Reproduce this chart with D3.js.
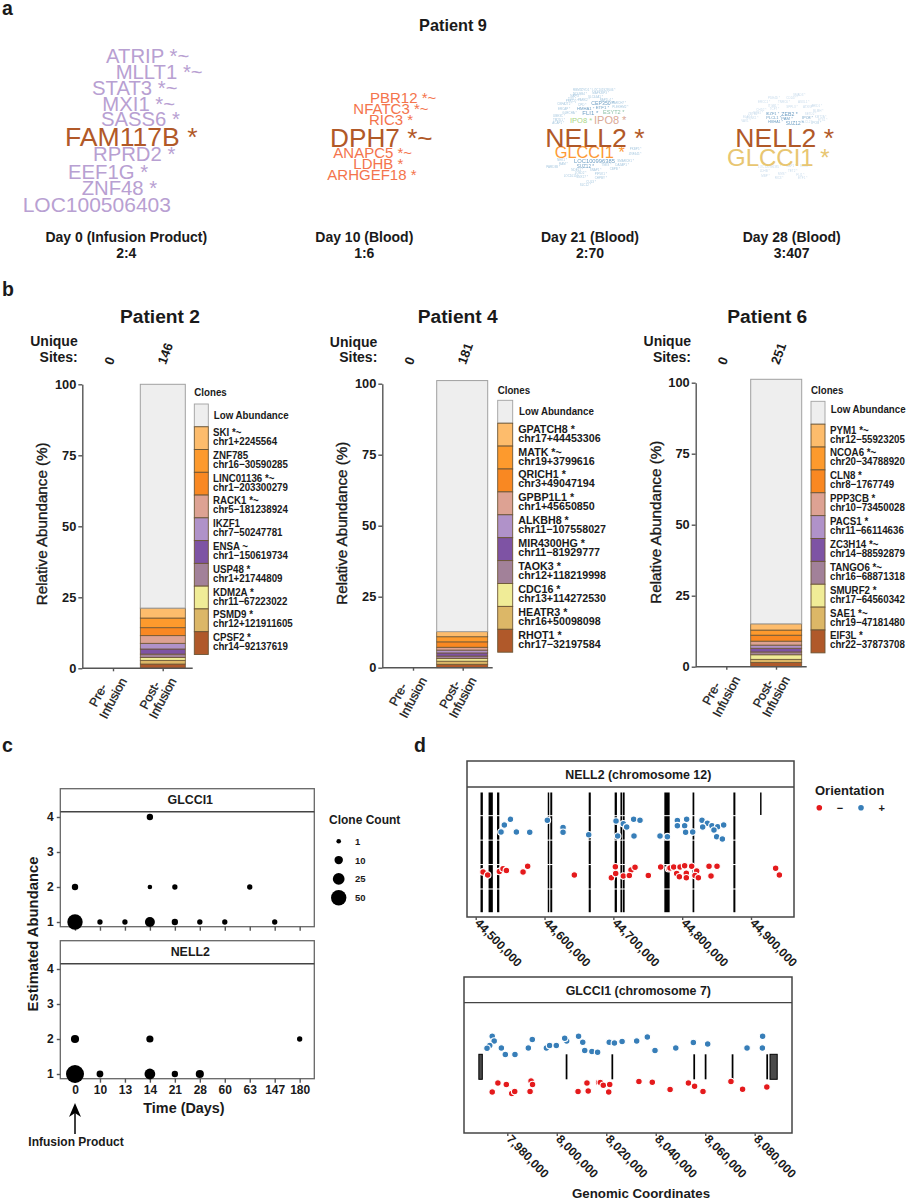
<!DOCTYPE html>
<html><head><meta charset="utf-8">
<script src="https://cdn.jsdelivr.net/npm/d3@7"></script>
<style>
html,body{margin:0;padding:0;background:#fff}
svg{display:block}
text{font-family:"Liberation Sans",Arial,sans-serif;fill:#1a1a1a}
.b{font-weight:700}
</style></head><body><div id="chart"></div>
<script>
// ---------- Panel a: word clouds ----------
const cloud0Words=["ATRIP *~","MLLT1 *~","STAT3 *~","MXI1 *~","SASS6 *","FAM117B *","RPRD2 *","EEF1G *","ZNF48 *","LOC100506403"];
const cloud0Weight=[20.3,20.3,20.3,20.3,20.3,26.6,20.3,20.3,20.3,21];
const cloud0Tone=[1,1,1,1,1,0,1,1,1,1];
const cloud0X=[318,347,276,307,303,195,279,204,245,68];
const cloud0Y=[188,236,284,332,378,438,484,537,584,635];

const cloud1Words=["PBR12 *~","NFATC3 *~","RIC3 *","DPH7 *~","ANAPC5 *~","LDHB *","ARHGEF18 *"];
const cloud1Weight=[15,15,15,26.2,15,15,15];
const cloud1Tone=[2,2,2,0,2,2,2];
const cloud1X=[1110,1060,1107,990,1000,1060,982];
const cloud1Y=[310,343,375,440,473,507,541];

const cloud2Words=["NELL2 *","GLCCI1 *","IPO8 *","IPO8 *","ESYT2 *","FLI1 *","LOC100996385","SUZ12 *","HMHA1 *","CEP350 *","ETF1 *",
 "DYD1 *","LOC101929506 *","NDUFB4 *","MAPK8IP3 *","NAPG *","SLC44A1 *","PRKCQ *","NAP1L4 *","CBFA2T2 *","CPD *","MARCH7 *","ERCAP *","PLEKHM2 *","GLRCHA *","UBE3C *","TM2D1 *","ACAP1 *","PKBP5 *","ZNF445 *","NEK1 *","RAM *","PARD3B *","NDEL1 *","SNAP1 *","TNKS *","CBPB *","SMARCE1 *","DAZAP1 *","JOSD2 *","PIP5K1 *","LOC1015 *","SNX17 *","CHPBY *","CUL3 *","SLC12 *","PARK2 *","RBM5 *","TOX *"];
const cloud2Weight=[26.7,16.4,11,7.5,5.6,6,5.8,4.6,4.2,5.2,4.4,
 3,3,3,3,3,3,3,3,3,3,3,3,3,3,3,3,3,3,3,3,3,3,3,3,3,3,3,3,3,3,3,3,3,3,3,3,3,3];
const cloud2Tone=[0,3,4,5,6,7,7,7,7,7,7,
 8,8,8,8,8,8,8,8,8,8,8,8,8,8,8,8,8,8,8,8,8,8,8,8,8,8,8,8,8,8,8,8,8,8,8,8,8,8];
const cloud2X=[277,305,423,351,450,388,363,371,372,415,428,
 385,418,360,418,352,405,338,440,313,375,475,315,478,328,300,300,298,530,527,312,318,280,355,410,445,470,493,487,365,425,332,370,425,400,380,375,360,345];
const cloud2Y=[260,295,193,190,163,165,310,324,151,134,147,
 92,92,106,102,112,114,126,122,135,137,132,149,143,162,170,182,192,270,285,303,315,325,332,332,318,330,306,319,342,345,352,355,358,368,378,122,92,120];

const cloud3Words=["NELL2 *","GLCCI1 *","ZEB2 *","PAM *","SUZ12 *","IKZF1 *","PLCL1 *","IPO8 *","HMHA1 *","IPO8 *",
 "SMAD3 *","PDE4D *","CD247 *","ERCC1 *","TNRC6 *","ASXL1 *","ITGB1 *","SPPL3 *","ATXN7 *","CHD2 *","BLMH *","ZBTB2 *","SETD2 *","RUNX1 *","KMT2A *","VAV1 *","PLCL2 *","SOS1 *","TCF7 *","ETS1 *","LOC100996385 *","NAP1 *","SOX4 *","LDHB *","TET2 *","MBP *","RIC3 *","FLI1 *","ETF1 *","ELF1 *","ARID1 *","MYB *"];
const cloud3Weight=[26.5,24,5.2,4.2,4.8,4,4,3.6,3.6,3.4,
 3,3,3,3,3,3,3,3,3,3,3,3,3,3,3,3,3,3,3,3,3,3,3,3,3,3,3,3,3,3,3,3];
const cloud3Tone=[0,9,7,7,7,7,7,7,7,8,
 10,10,10,10,10,10,10,10,10,10,10,10,10,10,10,10,10,10,10,10,10,10,10,10,10,10,10,10,10,10,10,10];
const cloud3X=[847,822,985,985,998,938,940,1048,945,1075,
 1020,945,1000,915,975,1035,945,1000,1050,910,1080,885,1055,880,1085,865,1045,900,950,1095,915,1000,1040,920,1005,925,965,1030,1035,870,1075,975];
const cloud3Y=[260,317,168,180,195,165,176,178,189,192,
 107,118,118,128,130,130,141,143,143,152,155,165,165,178,175,187,190,162,150,183,325,322,322,335,335,350,357,348,358,175,140,345];

const cloudPalette=["#b15928","#b8a0d2","#f4744c","#fd9a35","#daa996","#a9d585","#8fc2a8","#6f9fc4","#a9c9e0","#e8c671","#c9dcec"];
const cloudTitles=["Day 0 (Infusion Product)","Day 10 (Blood)","Day 21 (Blood)","Day 28 (Blood)"];
const cloudRatios=["2:4","1:6","2:70","3:407"];

// ---------- Panel b: clonal abundance ----------
const stackPalette=["#eeeeee","#fdbc6c","#fd9a2d","#f98822","#dda293","#b092c9","#7e53a4","#a28199","#f0ec97","#dcb767","#b0592a"];
const barCategories=["Pre-Infusion","Post-Infusion"];
const yTicksB=[0,25,50,75,100];

const p2Genes=["Low Abundance","SKI *~","ZNF785","LINC01136 *~","RACK1 *~","IKZF1","ENSA ~","USP48 *","KDM2A *","PSMD9 *","CPSF2 *"];
const p2Sites=["","chr1+2245564","chr16\u221230590285","chr1\u2212203300279","chr5\u2212181238924","chr7\u221250247781","chr1\u2212150619734","chr1+21744809","chr11\u221267223022","chr12+121911605","chr14\u221292137619"];
const p2Values=[78.8,3.5,3.4,2.8,2.7,2.0,1.8,1.2,1.0,1.3,1.5];
const p2Unique=[0,146];

const p4Genes=["Low Abundance","GPATCH8 *","MATK *~","QRICH1 *","GPBP1L1 *","ALKBH8 *","MIR4300HG *","TAOK3 *","CDC16 *","HEATR3 *","RHOT1 *"];
const p4Sites=["","chr17+44453306","chr19+3799616","chr3+49047194","chr1+45650850","chr11\u2212107558027","chr11\u221281929777","chr12+118219998","chr13+114272530","chr16+50098098","chr17\u221232197584"];
const p4Values=[88.4,1.8,1.8,1.9,1.0,1.0,1.1,0.9,0.9,1.1,1.2];
const p4Unique=[0,181];

const p6Genes=["Low Abundance","PYM1 *~","NCOA6 *~","CLN8 *","PPP3CB *","PACS1 *","ZC3H14 *~","TANGO6 *~","SMURF2 *","SAE1 *~","EIF3L *"];
const p6Sites=["","chr12\u221255923205","chr20\u221234788920","chr8\u22121767749","chr10\u221273450028","chr11\u221266114636","chr14\u221288592879","chr16\u221268871318","chr17\u221264560342","chr19\u221247181480","chr22\u221237873708"];
const p6Values=[86.1,2.2,1.8,2.1,1.4,1.1,1.3,1.0,1.6,1.1,1.5];
const p6Unique=[0,251];

// ---------- Panel c: clone counts ----------
const daysC=["0","10","13","14","21","28","60","63","147","180"];
const glcciDay=["0","0","10","13","14","14","14","21","21","28","60","63","147"];
const glcciAbund=[1,2,1,1,1,2,4,1,2,1,1,2,1];
const glcciCount=[50,4,2,2,16,1,4,4,2,2,2,2,2];
const nellDay=["0","0","10","14","14","21","28","180"];
const nellAbund=[1,2,1,1,2,1,1,2];
const nellCount=[73,9,5,20,6,4,9,2];
const legendCounts=[1,10,25,50];

// ---------- Panel d: integration sites (kb) ----------
const nellPlusPos=[44536.8,44541.6,44550.4,44559.1,44578.5,44604.1,44626.9,44626.9,44664.2,44703.9,44706.3,44714.5,44719.4,44729.5,44738.7,44730,44767.8,44778.5,44793,44793,44803.6,44806.5,44805,44815.3,44828.8,44836.6,44829.8,44843.3,44851.6,44846.2,44860.3,44850.1,44858.4];
const nellPlusJit=[3.33,3.62,3.85,3.33,3.32,3.81,3.52,3.32,3.22,3.78,3.17,3.67,3.54,3.85,3.81,3.17,3.17,3.14,3.80,3.59,3.59,3.85,3.32,3.33,3.81,3.69,3.54,3.59,3.55,3.41,3.62,3.14,3.05];
const nellMinusPos=[44510.7,44517.4,44534.4,44539.7,44544.6,44568.8,44575.5,44643.3,44697.1,44703.4,44702.9,44714.5,44725.7,44731.5,44723.2,44750.8,44768.8,44780.4,44782.3,44787.7,44796.9,44803.6,44813.8,44792,44795.9,44806,44806,44821.1,44818.6,44823.5,44839,44850.6,44841.9,44935.8,44941.2];
const nellMinusJit=[1.70,1.57,1.72,1.83,1.76,1.70,1.93,1.57,1.46,1.63,1.91,1.53,1.78,1.89,1.55,1.55,1.90,1.83,1.86,1.90,1.90,1.95,1.93,1.63,1.50,1.64,1.46,1.74,1.55,1.46,1.93,1.93,1.53,1.85,1.57];
const nellExonStart=[44507,44518.7,44531,44604.7,44608.4,44664.2,44701.9,44710.3,44713.9,44774.1,44815.1,44874.4,44913.2];
const nellExonEnd=[44510.4,44524.9,44534.3,44606.8,44611.2,44667.2,44705.2,44712.9,44716.4,44781.8,44817.6,44877.3,44915.3];
const nellExonLow=[0.05,0.05,0.05,0.05,0.05,0.05,0.05,0.05,0.05,0.05,0.05,0.05,4.03];
const nellExonHigh=[4.95,4.95,4.95,4.95,4.95,4.95,4.95,4.95,4.95,4.95,4.95,4.95,4.95];
const nellTicks=[44500,44600,44700,44800,44900];

const glcPlusPos=[7973.9,7974.7,7972.9,7971.8,7977.6,7979.2,7983.1,7988.5,7990.1,7995.8,7997.1,7999.8,8004,8003.2,8008.8,8010.5,8011.3,8014.2,8016.5,8021.2,8023.3,8026.4,8032.3,8036.6,8039.7,8048.1,8055.2,8061,8076.9,8083.1,8083.2];
const glcPlusJit=[3.72,3.53,3.35,3.24,3.25,2.99,2.99,3.25,3.59,3.25,3.35,3.35,3.53,3.64,3.72,3.48,3.15,3.11,3.08,3.48,3.45,3.51,3.53,3.69,3.15,3.25,3.47,3.41,3.25,3.25,3.72];
const glcMinusPos=[7973.9,7976.2,7979.6,7981.8,7983,7989.2,7989.6,7990.2,8008.6,8012.2,8012.7,8016.9,8017.6,8018.8,8021.4,8021,8033.2,8038.6,8045.8,8053.2,8055.7,8059.1,8070.4,8075.1,8084.9];
const glcMinusJit=[1.49,1.85,1.79,1.43,1.51,1.51,1.93,1.79,1.51,1.85,1.53,1.87,1.87,1.76,1.79,1.49,1.91,1.88,1.59,1.85,1.72,1.51,1.91,1.6,1.69];
const glcExonStart=[7968.5,8003.6,8022.1,8055.2,8059.8,8070.7,8084.7,8086.2];
const glcExonEnd=[7969.9,8004.3,8022.8,8055.9,8060.5,8071.4,8085.4,8089.1];
const glcExonBox=[1,0,0,0,0,0,0,1];
const glcTicks=[7980,8000,8020,8040,8060,8080];

// ================= drawing =================
const W=906,H=1200;
const svg=d3.select("#chart").append("svg").attr("width",W).attr("height",H).attr("viewBox",[0,0,W,H]);
const zx=o=>d3.scaleLinear().domain([0,3]).range([o,o+1]);
function txt(g,s,x,y,size,opt={}){
  const t=g.append("text").attr("x",x).attr("y",y).attr("font-size",size).text(s);
  if(opt.bold!==false)t.attr("font-weight",700);
  if(opt.anchor)t.attr("text-anchor",opt.anchor);
  if(opt.tr)t.attr("transform",opt.tr);
  if(opt.medium)t.attr("stroke","#1a1a1a").attr("stroke-width",opt.medium);
  if(opt.dy)t.attr("dominant-baseline","central");
  return t;
}
// narrow, tall label: a legend text squeezed horizontally
function nar(g,s,x,y,size,sx){
  return txt(g,s,0,0,size,{tr:`translate(${x},${y}) scale(${sx},1)`});
}
[["a",2,15],["b",2,296],["c",2,752],["d",414,752]].forEach(d=>txt(svg,d[0],d[1],d[2],19.5));

// --- a ---
txt(svg,"Patient 9",453,31,16.3,{anchor:"middle"});
const wordSize=d3.scaleLinear().domain([0,30]).range([0,30]);
function cloud(words,weight,tone,xs,ys,ox,oy){
  const X=zx(ox),Y=zx(oy);
  const rows=d3.range(words.length).sort((a,b)=>weight[a]-weight[b]);
  svg.append("g").selectAll("text").data(rows).join("text")
    .attr("x",i=>X(xs[i])).attr("y",i=>Y(ys[i]))
    .attr("font-size",i=>wordSize(weight[i]))
    .style("filter",i=>weight[i]<7?"blur(0.35px)":null)
    .style("fill",i=>cloudPalette[tone[i]]).text(i=>words[i]);
}
cloud(cloud0Words,cloud0Weight,cloud0Tone,cloud0X,cloud0Y,0,0);
cloud(cloud1Words,cloud1Weight,cloud1Tone,cloud1X,cloud1Y,0,0);
cloud(cloud2Words,cloud2Weight,cloud2Tone,cloud2X,cloud2Y,453,60);
cloud(cloud3Words,cloud3Weight,cloud3Tone,cloud3X,cloud3Y,453,60);
[126.3,364.3,590,791.7].forEach((x,i)=>{
  txt(svg,cloudTitles[i],x,242,14,{anchor:"middle"});
  txt(svg,cloudRatios[i],x,258,14,{anchor:"middle"});
});

// --- b ---
function styleAxis(g,size){
  g.selectAll("path,line").attr("stroke","#555").attr("stroke-width",1.4);
  g.selectAll("text").attr("font-size",size).attr("font-weight",700);
}
function barPanel(c){
  const g=svg.append("g");
  txt(g,c.title,c.titleX,323,19.2,{anchor:"middle"});
  txt(g,"Unique",c.uniqueX,c.uniqueY,14,{anchor:"end"});
  txt(g,"Sites:",c.uniqueX,362,14,{anchor:"end"});
  const x=d3.scalePoint().domain(barCategories).range(c.ticks);
  const y=d3.scaleLinear().domain([0,100]).range([c.y0,c.y100]);
  const keys=d3.range(c.values.length).reverse();
  const rows=[Object.fromEntries(c.values.map((v,i)=>[i,v]))];
  const series=d3.stack().keys(keys)(rows);
  g.append("g").selectAll("rect").data(series).join("rect")
    .attr("x",c.barX[0]).attr("width",c.barX[1]-c.barX[0])
    .attr("y",d=>y(d[0][1])).attr("height",d=>y(d[0][0])-y(d[0][1]))
    .attr("fill",d=>stackPalette[d.key])
    .attr("stroke",d=>d.key==0?"#a0a0a0":"#6b5535").attr("stroke-width",d=>d.key==0?1:0.8);
  const ax=g.append("g").attr("transform",`translate(${c.axisX},0)`)
    .call(d3.axisLeft(y).tickValues(yTicksB).tickSize(4).tickSizeOuter(0).tickPadding(2));
  styleAxis(ax,12.8);
  const bx=g.append("g").attr("transform",`translate(0,${c.y0})`)
    .call(d3.axisBottom(x).tickSize(3).tickSizeOuter(0).tickFormat(""));
  bx.select("path").attr("d",`M${c.axisX},0H${c.axisEnd}`);
  styleAxis(bx,11);
  const tx0=c.axisX-40.6, ty0=c.y0-144.5;
  txt(g,"Relative Abundance (%)",tx0,ty0,15.2,
     {bold:false,medium:0.35,anchor:"middle",dy:1,tr:`rotate(-90 ${tx0} ${ty0})`});
  barCategories.forEach((cat,i)=>{
    const tx=x(cat);
    const [a,b]=i==0?["Pre-","Infusion"]:["Post-","Infusion"];
    const ax1=tx+(i==0?-14.7:-12.7);
    txt(g,a,ax1,c.y0+27,12.6,{bold:false,medium:0.3,anchor:"middle",dy:1,tr:`rotate(-62 ${ax1} ${c.y0+27})`});
    txt(g,b,tx+0.3,c.y0+30,12.6,{bold:false,medium:0.3,anchor:"middle",dy:1,tr:`rotate(-62 ${tx+0.3} ${c.y0+30})`});
    const ux=tx+(i==0?-3.5:2.5), uy=i==0?360.7:353.5;
    txt(g,String(c.unique[i]),ux,uy,13,{anchor:"middle",dy:1,tr:`rotate(-70 ${ux} ${uy})`});
  });
  nar(g,"Clones",c.legX,c.clonesY,10.7,0.91);
  const ly=i=>c.legTop+i*c.legStep;
  g.append("g").selectAll("rect").data(c.values).join("rect")
    .attr("x",c.legX).attr("width",c.legW).attr("y",(d,i)=>ly(i)).attr("height",c.legStep)
    .attr("fill",(d,i)=>stackPalette[i])
    .attr("stroke",(d,i)=>i==0?"#a0a0a0":"#6b5535").attr("stroke-width",0.9);
  c.genes.forEach((gene,i)=>{
    if(i==0){nar(g,gene,c.legTextX+0.8,c.lowY,10.7,0.91);return;}
    nar(g,gene,c.legTextX,ly(i)+9.4,10.7,c.labelSx);
    nar(g,c.sites[i],c.legTextX,ly(i)+18.4,10.7,c.labelSx);
  });
}
barPanel({title:"Patient 2",titleX:160,uniqueX:77.7,uniqueY:345.7,ticks:[113,162.7],y0:668.3,y100:384.3,barX:[140.3,185.3],axisX:82.3,axisEnd:192.7,
 values:p2Values,genes:p2Genes,sites:p2Sites,unique:p2Unique,legX:194.3,legW:14,legTop:404,legStep:22.77,clonesY:396,lowY:418.5,legTextX:213,labelSx:0.91});
barPanel({title:"Patient 4",titleX:457.7,uniqueX:377.3,uniqueY:346.7,ticks:[413,462.7],y0:667.7,y100:383.7,barX:[436.7,487.7],axisX:382.3,axisEnd:492.7,
 values:p4Values,genes:p4Genes,sites:p4Sites,unique:p4Unique,legX:497.7,legW:15,legTop:400.3,legStep:22.9,clonesY:394.3,lowY:414.5,legTextX:518.3,labelSx:1});
barPanel({title:"Patient 6",titleX:767.3,uniqueX:691,uniqueY:345.7,ticks:[726.3,776],y0:666.7,y100:382.7,barX:[750.7,801.7],axisX:695.7,axisEnd:806.7,
 values:p6Values,genes:p6Genes,sites:p6Sites,unique:p6Unique,legX:811,legW:14,legTop:401.3,legStep:22.87,clonesY:394.3,lowY:412.5,legTextX:830,labelSx:0.91});

// --- c ---
const rC=d3.scaleSqrt().domain([1,50]).range([2.3,7.7]);
const xC=d3.scalePoint().domain(daysC).range([75,299.67]);
function facetC(name,top,stripBottom,bottom,y1,y4,days,ab,cnt,showLabels){
  const g=svg.append("g");
  const L=60.3,R=314.3;
  const y=d3.scaleLinear().domain([1,4]).range([y1,y4]);
  g.append("rect").attr("x",L).attr("y",top).attr("width",R-L).attr("height",bottom-top).attr("fill","#fff").attr("stroke","#666").attr("stroke-width",1.3);
  g.append("line").attr("x1",L).attr("x2",R).attr("y1",stripBottom).attr("y2",stripBottom).attr("stroke","#444").attr("stroke-width",1.4);
  txt(g,name,190.3,stripBottom-7.7,12.4,{anchor:"middle"});
  const ay=g.append("g").attr("transform",`translate(${L},0)`).call(d3.axisLeft(y).tickValues([1,2,3,4]).tickFormat(d3.format("d")).tickSize(3.5).tickSizeOuter(0).tickPadding(3));
  ay.select("path").remove();
  styleAxis(ay,12);
  const ax=g.append("g").attr("transform",`translate(0,${bottom})`).call(d3.axisBottom(xC).tickSize(4).tickSizeOuter(0).tickPadding(3));
  ax.select("path").remove();
  styleAxis(ax,12);
  if(!showLabels)ax.selectAll("text").remove();
  g.append("g").selectAll("circle").data(d3.range(days.length)).join("circle")
    .attr("cx",i=>xC(days[i])).attr("cy",i=>y(ab[i])).attr("r",i=>rC(cnt[i])).attr("fill","#000");
}
facetC("GLCCI1",788.7,811.7,926.7,922,817,glcciDay,glcciAbund,glcciCount,false);
facetC("NELL2",940.7,963.7,1078.7,1074,969,nellDay,nellAbund,nellCount,true);
txt(svg,"Estimated Abundance",33.3,934,14.8,{anchor:"middle",dy:1,tr:"rotate(-90 33.3 934)"});
txt(svg,"Time (Days)",184,1113,14.4,{anchor:"middle"});
txt(svg,"Infusion Product",76,1146,12,{anchor:"middle"});
txt(svg,"Clone Count",329,824,12);
const legY=d3.scalePoint().domain(legendCounts).range([841.3,897.7]);
legendCounts.forEach(n=>{
  svg.append("circle").attr("cx",338.7).attr("cy",legY(n)).attr("r",rC(n)).attr("fill","#000");
  txt(svg,String(n),355,legY(n)+3.4,9.5);
});
svg.append("line").attr("x1",xC("0")).attr("x2",xC("0")).attr("y1",1134).attr("y2",1112).attr("stroke","#000").attr("stroke-width",1.5);
svg.append("path").attr("d",`M${xC("0")},1103L${xC("0")+6},1117L${xC("0")},1113L${xC("0")-6},1117Z`).attr("fill","#000");

// --- d ---
const RED="#e41a1c",BLUE="#377eb8";
function dots(g,x,y,pos,jit,col){
  g.append("g").selectAll("circle").data(d3.range(pos.length)).join("circle")
    .attr("cx",i=>x(pos[i])).attr("cy",i=>y(jit[i])).attr("r",3.3)
    .attr("fill",col).attr("stroke","#fff").attr("stroke-width",1.1);
}
function tickLabels(g,x,ticks,bottom,fmt){
  const ax=g.append("g").attr("transform",`translate(0,${bottom})`)
    .call(d3.axisBottom(x).tickValues(ticks).tickSize(3).tickSizeOuter(0).tickFormat(fmt));
  ax.select("path").remove();
  styleAxis(ax,12.2);
  ax.selectAll("text").attr("text-anchor","start").attr("dy",0).attr("y",0).attr("x",0)
    .attr("transform","translate(1,4) rotate(46)").attr("dominant-baseline","central");
}
const fmtKb=d=>d3.format(",")(d*1000);
// NELL2
(function(){
  const g=svg.append("g");
  const L=467,R=794,top=761,sb=787,bottom=917;
  const x=d3.scaleLinear().domain([44500,44900]).range([475.7,751]);
  const y=d3.scaleLinear().domain([1,4]).range([889,815.7]);
  g.append("rect").attr("x",L).attr("y",top).attr("width",R-L).attr("height",bottom-top).attr("fill","#fff");
  g.append("g").selectAll("rect").data(d3.range(nellExonStart.length)).join("rect")
    .attr("x",i=>x(nellExonStart[i])).attr("width",i=>x(nellExonEnd[i])-x(nellExonStart[i]))
    .attr("y",i=>y(nellExonHigh[i])).attr("height",i=>y(nellExonLow[i])-y(nellExonHigh[i])).attr("fill","#000");
  g.append("g").selectAll("line").data([1,2,3,4]).join("line")
    .attr("x1",L).attr("x2",R).attr("y1",d=>y(d)).attr("y2",d=>y(d)).attr("stroke","#fff").attr("stroke-width",1);
  dots(g,x,y,nellPlusPos,nellPlusJit,BLUE);
  dots(g,x,y,nellMinusPos,nellMinusJit,RED);
  g.append("rect").attr("x",L).attr("y",top).attr("width",R-L).attr("height",bottom-top).attr("fill","none").attr("stroke","#444").attr("stroke-width",1.5);
  g.append("line").attr("x1",L).attr("x2",R).attr("y1",sb).attr("y2",sb).attr("stroke","#444").attr("stroke-width",1.3);
  txt(g,"NELL2 (chromosome 12)",638.3,779,12.4,{anchor:"middle"});
  tickLabels(g,x,nellTicks,bottom,fmtKb);
})();
// GLCCI1
(function(){
  const g=svg.append("g");
  const L=464,R=792,top=977,sb=1002.7,bottom=1133;
  const x=d3.scaleLinear().domain([7980,8080]).range([507.3,754.7]);
  const y=d3.scaleLinear().domain([2,3]).range([1079.3,1054.3]);
  g.append("rect").attr("x",L).attr("y",top).attr("width",R-L).attr("height",bottom-top).attr("fill","#fff");
  g.append("g").selectAll("rect").data(d3.range(glcExonStart.length)).join("rect")
    .attr("x",i=>x(glcExonStart[i])).attr("width",i=>x(glcExonEnd[i])-x(glcExonStart[i]))
    .attr("y",y(3)).attr("height",y(2)-y(3))
    .attr("fill",i=>glcExonBox[i]?"#4a4a4a":"#000").attr("stroke","#000").attr("stroke-width",i=>glcExonBox[i]?1:0);
  dots(g,x,y,glcPlusPos,glcPlusJit,BLUE);
  dots(g,x,y,glcMinusPos,glcMinusJit,RED);
  g.append("rect").attr("x",L).attr("y",top).attr("width",R-L).attr("height",bottom-top).attr("fill","none").attr("stroke","#444").attr("stroke-width",1.5);
  g.append("line").attr("x1",L).attr("x2",R).attr("y1",sb).attr("y2",sb).attr("stroke","#444").attr("stroke-width",1.3);
  txt(g,"GLCCI1 (chromosome 7)",638.3,995,12.4,{anchor:"middle"});
  tickLabels(g,x,glcTicks,bottom,fmtKb);
})();
txt(svg,"Genomic Coordinates",641,1198,13.3,{anchor:"middle"});
txt(svg,"Orientation",815,795,13);
svg.append("circle").attr("cx",819.3).attr("cy",807.7).attr("r",2.8).attr("fill",RED);
svg.append("circle").attr("cx",861).attr("cy",807.7).attr("r",2.8).attr("fill",BLUE);
txt(svg,"\u2212",840,811.5,11,{anchor:"middle"});
txt(svg,"+",881.7,811.5,11,{anchor:"middle"});
</script></body></html>
